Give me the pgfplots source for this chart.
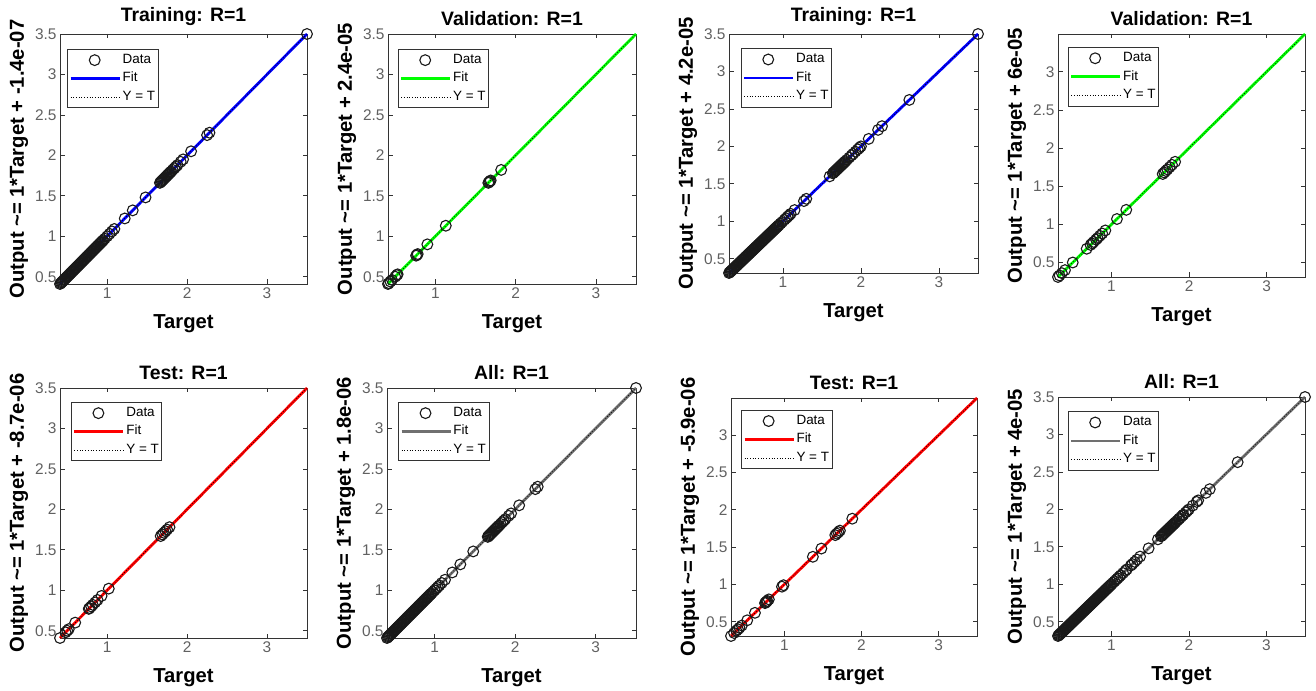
\documentclass[border=0pt]{standalone}
\usepackage{fontspec}
\setmainfont{Liberation Sans}
\usepackage{pgfplots}
\pgfplotsset{compat=1.18}
\definecolor{fitgray}{RGB}{112,112,112}
\definecolor{mkc}{RGB}{25,25,25}
\pgfplotsset{
  reg/.style={
    scale only axis, anchor=south west, clip=false,
    xtick={1,2,3}, ytick={0.5,1,1.5,2,2.5,3,3.5},
    tick align=inside, major tick length=4.5bp,
    axis line style={draw=black!80, line width=0.9bp},
    every tick/.style={black!80, line width=0.7bp},
    tick label style={font=\fontsize{15.5}{18}\selectfont, text=black!62},
    /pgf/number format/assume math mode=true,
    label style={font=\bfseries\fontsize{20.3}{23}\selectfont},
    xlabel style={yshift=-9bp},
    title style={font=\bfseries\fontsize{19.5}{22}\selectfont, yshift=-1bp},
    xlabel=Target,
    legend cell align=left,
    legend style={draw=black!80, line width=0.8bp, anchor=north west,
      font=\fontsize{13.5}{16}\selectfont, inner sep=1.5bp,
      nodes={inner sep=1.5bp, text height=11bp, text depth=4.5bp}},
  },
  datamark/.style={only marks, mark=o, mark size=5.4bp, mkc, line width=1.1bp,
    legend image code/.code={\draw[##1] plot coordinates {(33bp,0bp)};}},
  fitline/.style={line width=2.8bp, #1,
    legend image code/.code={\draw[##1] (9bp,0bp) -- (58bp,0bp);}},
  ytline/.style={black, dotted, line width=0.7bp,
    legend image code/.code={\draw[##1] (9bp,0bp) -- (58bp,0bp);}},
}
\begin{document}
\begin{tikzpicture}
\useasboundingbox (0,0) rectangle (1316bp,691bp);

% ---------- Panel 1: Training (left) ----------
\begin{axis}[reg, at={(60bp,407bp)}, width=247bp, height=250bp,
  xmin=0.41, xmax=3.5, ymin=0.41, ymax=3.5,
  title={Training: R=1}, ylabel={Output \textasciitilde= 1*Target + -1.4e-07},
  legend style={at={(0.03,0.94)}}]
\addlegendimage{datamark}\addlegendentry{Data}
\addplot[fitline=blue] coordinates {(0.41,0.41) (3.5,3.5)};\addlegendentry{Fit}
\addplot[ytline] coordinates {(0.41,0.41) (3.5,3.5)};\addlegendentry{Y = T}
\addplot[datamark, forget plot] table[x=t, y=t, row sep=\\] {t\\
0.41\\0.42\\0.43\\0.44\\0.45\\0.46\\0.47\\0.48\\0.49\\0.50\\0.51\\0.52\\0.53\\0.54\\0.55\\0.56\\0.57\\0.58\\0.59\\0.60\\0.61\\0.62\\0.63\\0.64\\0.65\\0.66\\0.67\\0.68\\0.69\\0.70\\0.71\\0.72\\0.73\\0.74\\0.75\\0.76\\0.77\\0.78\\0.79\\0.80\\0.81\\0.82\\0.83\\0.84\\0.85\\0.86\\0.87\\0.88\\0.89\\0.90\\0.91\\0.92\\0.93\\0.94\\0.95\\0.97\\1.00\\1.03\\1.06\\1.09\\1.22\\1.32\\1.48\\1.66\\1.67\\1.68\\1.69\\1.70\\1.71\\1.72\\1.73\\1.74\\1.75\\1.76\\1.77\\1.78\\1.79\\1.80\\1.82\\1.84\\1.86\\1.88\\1.92\\1.95\\2.05\\2.25\\2.28\\3.50\\};
\end{axis}

% ---------- Panel 2: Validation (left) ----------
\begin{axis}[reg, at={(388bp,407bp)}, width=248bp, height=250bp,
  xmin=0.41, xmax=3.5, ymin=0.41, ymax=3.5,
  title={Validation: R=1}, ylabel={Output \textasciitilde= 1*Target + 2.4e-05},
  legend style={at={(0.04,0.94)}}]
\addlegendimage{datamark}\addlegendentry{Data}
\addplot[fitline=green] coordinates {(0.41,0.41) (3.5,3.5)};\addlegendentry{Fit}
\addplot[ytline] coordinates {(0.41,0.41) (3.5,3.5)};\addlegendentry{Y = T}
\addplot[datamark, forget plot] table[x=t, y=t, row sep=\\] {t\\
0.41\\0.42\\0.44\\0.46\\0.50\\0.52\\0.53\\0.76\\0.77\\0.78\\0.90\\1.13\\1.66\\1.67\\1.68\\1.69\\1.82\\};
\end{axis}

% ---------- Panel 3: Training (right) ----------
\begin{axis}[reg, at={(729bp,418bp)}, width=249bp, height=239bp,
  xmin=0.31, xmax=3.5, ymin=0.31, ymax=3.5,
  title={Training: R=1}, ylabel={Output \textasciitilde= 1*Target + 4.2e-05},
  legend style={at={(0.048,0.94)}}]
\addlegendimage{datamark}\addlegendentry{Data}
\addplot[fitline=blue] coordinates {(0.31,0.31) (3.5,3.5)};\addlegendentry{Fit}
\addplot[ytline] coordinates {(0.31,0.31) (3.5,3.5)};\addlegendentry{Y = T}
\addplot[datamark, forget plot] table[x=t, y=t, row sep=\\] {t\\
0.31\\0.32\\0.33\\0.34\\0.35\\0.36\\0.37\\0.38\\0.39\\0.40\\0.41\\0.42\\0.43\\0.44\\0.45\\0.46\\0.47\\0.48\\0.49\\0.50\\0.51\\0.52\\0.53\\0.54\\0.55\\0.56\\0.57\\0.58\\0.59\\0.60\\0.61\\0.62\\0.63\\0.64\\0.65\\0.66\\0.67\\0.68\\0.69\\0.70\\0.71\\0.72\\0.73\\0.74\\0.75\\0.76\\0.77\\0.78\\0.79\\0.80\\0.81\\0.82\\0.83\\0.84\\0.85\\0.86\\0.87\\0.88\\0.89\\0.90\\0.91\\0.92\\0.93\\0.94\\0.95\\0.97\\0.99\\1.02\\1.04\\1.06\\1.08\\1.10\\1.15\\1.27\\1.30\\1.60\\1.64\\1.65\\1.66\\1.67\\1.68\\1.69\\1.70\\1.71\\1.72\\1.73\\1.74\\1.75\\1.76\\1.77\\1.78\\1.79\\1.80\\1.82\\1.85\\1.88\\1.90\\1.93\\1.96\\1.98\\2.00\\2.10\\2.22\\2.27\\2.62\\3.50\\};
\end{axis}

% ---------- Panel 4: Validation (right) ----------
\begin{axis}[reg, at={(1058bp,414bp)}, width=247bp, height=243bp,
  xmin=0.31, xmax=3.495, ymin=0.31, ymax=3.495,
  title={Validation: R=1}, ylabel={Output \textasciitilde= 1*Target + 6e-05},
  legend style={at={(0.04,0.946)}}]
\addlegendimage{datamark}\addlegendentry{Data}
\addplot[fitline=green] coordinates {(0.31,0.31) (3.495,3.495)};\addlegendentry{Fit}
\addplot[ytline] coordinates {(0.31,0.31) (3.495,3.495)};\addlegendentry{Y = T}
\addplot[datamark, forget plot] table[x=t, y=t, row sep=\\] {t\\
0.31\\0.33\\0.36\\0.40\\0.50\\0.68\\0.73\\0.75\\0.77\\0.80\\0.82\\0.85\\0.88\\0.92\\1.07\\1.19\\1.66\\1.68\\1.70\\1.72\\1.75\\1.78\\1.82\\};
\end{axis}

% ---------- Panel 5: Test (left) ----------
\begin{axis}[reg, at={(60bp,53bp)}, width=247bp, height=250bp,
  xmin=0.41, xmax=3.5, ymin=0.41, ymax=3.5,
  title={Test: R=1}, ylabel={Output \textasciitilde= 1*Target + -8.7e-06},
  legend style={at={(0.045,0.944)}}]
\addlegendimage{datamark}\addlegendentry{Data}
\addplot[fitline=red] coordinates {(0.41,0.41) (3.5,3.5)};\addlegendentry{Fit}
\addplot[ytline] coordinates {(0.41,0.41) (3.5,3.5)};\addlegendentry{Y = T}
\addplot[datamark, forget plot] table[x=t, y=t, row sep=\\] {t\\
0.41\\0.48\\0.50\\0.52\\0.60\\0.77\\0.78\\0.80\\0.82\\0.85\\0.88\\0.93\\1.02\\1.67\\1.69\\1.71\\1.73\\1.75\\1.78\\};
\end{axis}

% ---------- Panel 6: All (left) ----------
\begin{axis}[reg, at={(387bp,53bp)}, width=249bp, height=250bp,
  xmin=0.41, xmax=3.5, ymin=0.41, ymax=3.5,
  title={All: R=1}, ylabel={Output \textasciitilde= 1*Target + 1.8e-06},
  legend style={at={(0.045,0.944)}}]
\addlegendimage{datamark}\addlegendentry{Data}
\addplot[fitline=fitgray] coordinates {(0.41,0.41) (3.5,3.5)};\addlegendentry{Fit}
\addplot[ytline] coordinates {(0.41,0.41) (3.5,3.5)};\addlegendentry{Y = T}
\addplot[datamark, forget plot] table[x=t, y=t, row sep=\\] {t\\
0.41\\0.42\\0.43\\0.44\\0.45\\0.46\\0.47\\0.48\\0.49\\0.50\\0.51\\0.52\\0.53\\0.54\\0.55\\0.56\\0.57\\0.58\\0.59\\0.60\\0.61\\0.62\\0.63\\0.64\\0.65\\0.66\\0.67\\0.68\\0.69\\0.70\\0.71\\0.72\\0.73\\0.74\\0.75\\0.76\\0.77\\0.78\\0.79\\0.80\\0.81\\0.82\\0.83\\0.84\\0.85\\0.86\\0.87\\0.88\\0.89\\0.90\\0.91\\0.92\\0.93\\0.94\\0.95\\0.96\\0.98\\1.00\\1.02\\1.04\\1.06\\1.09\\1.13\\1.22\\1.32\\1.48\\1.66\\1.67\\1.68\\1.69\\1.70\\1.71\\1.72\\1.73\\1.74\\1.75\\1.76\\1.77\\1.78\\1.79\\1.80\\1.82\\1.84\\1.86\\1.88\\1.92\\1.95\\2.05\\2.25\\2.28\\3.50\\};
\end{axis}

% ---------- Panel 7: Test (right) ----------
\begin{axis}[reg, at={(731bp,55bp)}, width=246bp, height=238bp,
  xmin=0.31, xmax=3.495, ymin=0.31, ymax=3.495,
  title={Test: R=1}, ylabel={Output \textasciitilde= 1*Target + -5.9e-06},
  legend style={at={(0.042,0.95)}}]
\addlegendimage{datamark}\addlegendentry{Data}
\addplot[fitline=red] coordinates {(0.31,0.31) (3.495,3.495)};\addlegendentry{Fit}
\addplot[ytline] coordinates {(0.31,0.31) (3.495,3.495)};\addlegendentry{Y = T}
\addplot[datamark, forget plot] table[x=t, y=t, row sep=\\] {t\\
0.31\\0.35\\0.38\\0.40\\0.42\\0.45\\0.52\\0.62\\0.75\\0.76\\0.77\\0.78\\0.80\\0.97\\0.99\\1.37\\1.48\\1.66\\1.68\\1.70\\1.72\\1.88\\};
\end{axis}

% ---------- Panel 8: All (right) ----------
\begin{axis}[reg, at={(1058bp,55bp)}, width=247bp, height=239bp,
  xmin=0.31, xmax=3.5, ymin=0.31, ymax=3.5,
  title={All: R=1}, ylabel={Output \textasciitilde= 1*Target + 4e-05},
  legend style={at={(0.04,0.94)}}]
\addlegendimage{datamark}\addlegendentry{Data}
\addplot[fitline=fitgray] coordinates {(0.31,0.31) (3.5,3.5)};\addlegendentry{Fit}
\addplot[ytline] coordinates {(0.31,0.31) (3.5,3.5)};\addlegendentry{Y = T}
\addplot[datamark, forget plot] table[x=t, y=t, row sep=\\] {t\\
0.31\\0.32\\0.33\\0.34\\0.35\\0.36\\0.37\\0.38\\0.39\\0.40\\0.41\\0.42\\0.43\\0.44\\0.45\\0.46\\0.47\\0.48\\0.49\\0.50\\0.51\\0.52\\0.53\\0.54\\0.55\\0.56\\0.57\\0.58\\0.59\\0.60\\0.61\\0.62\\0.63\\0.64\\0.65\\0.66\\0.67\\0.68\\0.69\\0.70\\0.71\\0.72\\0.73\\0.74\\0.75\\0.76\\0.77\\0.78\\0.79\\0.80\\0.81\\0.82\\0.83\\0.84\\0.85\\0.86\\0.87\\0.88\\0.89\\0.90\\0.91\\0.92\\0.93\\0.94\\0.95\\0.96\\0.97\\0.98\\0.99\\1.00\\1.02\\1.04\\1.06\\1.08\\1.10\\1.12\\1.15\\1.18\\1.20\\1.25\\1.27\\1.30\\1.33\\1.37\\1.48\\1.60\\1.64\\1.65\\1.66\\1.67\\1.68\\1.69\\1.70\\1.71\\1.72\\1.73\\1.74\\1.75\\1.76\\1.77\\1.78\\1.79\\1.80\\1.81\\1.82\\1.83\\1.85\\1.87\\1.88\\1.90\\1.92\\1.93\\1.96\\1.98\\2.00\\2.05\\2.10\\2.12\\2.22\\2.27\\2.63\\3.50\\};
\end{axis}
\end{tikzpicture}
\end{document}
